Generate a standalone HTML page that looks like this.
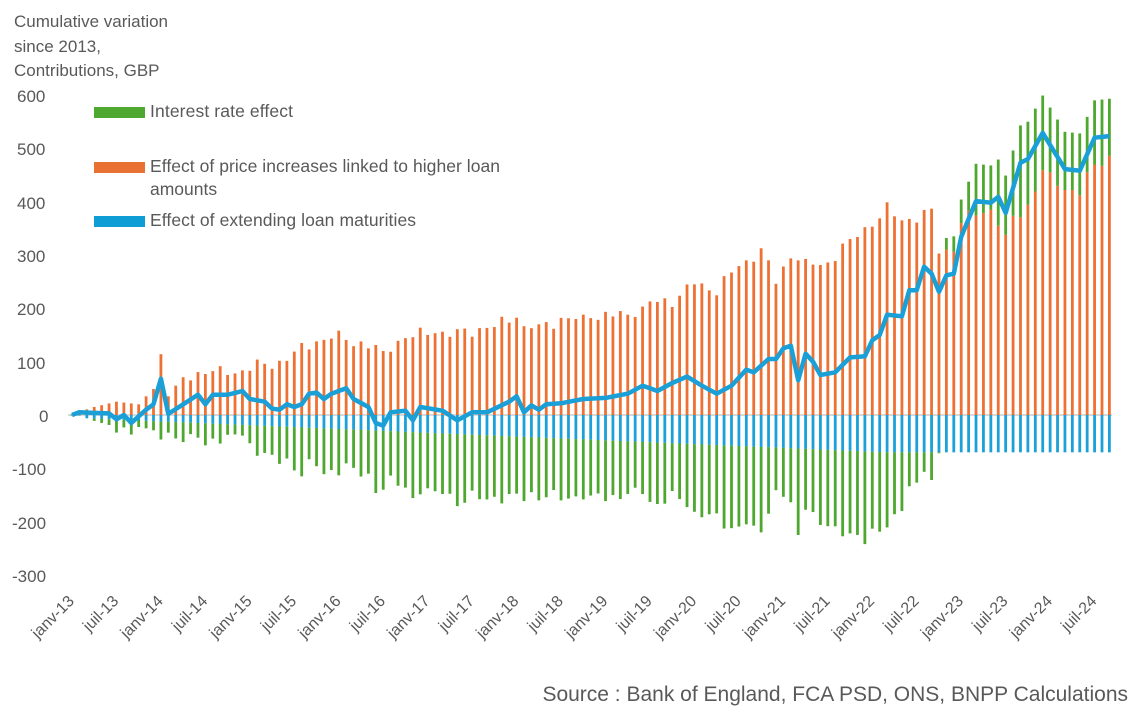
<!DOCTYPE html>
<html><head><meta charset="utf-8"><style>
body{margin:0;background:#fff;}
svg{display:block;font-family:"Liberation Sans",sans-serif;fill:#595959;}
</style></head><body>
<svg id="s" width="1144" height="714" viewBox="0 0 1144 714" xmlns="http://www.w3.org/2000/svg">
<text x="14" y="27" font-size="17">Cumulative variation</text>
<text x="14" y="52" font-size="17">since 2013,</text>
<text x="14" y="76" font-size="17">Contributions, GBP</text>
<g font-size="17">
<text x="17" y="102">600</text><text x="17" y="155">500</text><text x="17" y="209">400</text>
<text x="17" y="262">300</text><text x="17" y="315">200</text><text x="17" y="369">100</text>
<text x="39" y="422">0</text><text x="12" y="475">-100</text><text x="12" y="529">-200</text>
<text x="12" y="582">-300</text>
</g>
<line x1="68" y1="415" x2="1112" y2="415" stroke="#d9d9d9" stroke-width="2"/>
<g id="bars"></g>
<polyline id="ln" fill="none" stroke="#1a9fd6" stroke-width="4.5" stroke-linejoin="round"/>
<rect x="94" y="107" width="51" height="11" fill="#4ea72e"/>
<rect x="94" y="162" width="51" height="11" fill="#e97132"/>
<rect x="94" y="216" width="51" height="11" fill="#0e9ed5"/>
<g font-size="17.5">
<text x="150" y="117" textLength="143">Interest rate effect</text>
<text x="150" y="172" textLength="350">Effect of price increases linked to higher loan</text>
<text x="150" y="195">amounts</text>
<text x="150" y="226" textLength="266">Effect of extending loan maturities</text>
</g>
<g id="xl" font-size="16"></g>
<text x="1128" y="701" font-size="21" text-anchor="end">Source : Bank of England, FCA PSD, ONS, BNPP Calculations</text>
</svg>
<script>
var NS="http://www.w3.org/2000/svg";
function interp(k,i){for(var j=0;j<k.length-1;j++){if(i>=k[j][0]&&i<=k[j+1][0]){var t=(i-k[j][0])/(k[j+1][0]-k[j][0]);return k[j][1]+t*(k[j+1][1]-k[j][1]);}}return k[k.length-1][1];}
var O=[[0,0],[3,15],[6,25],[9,20],[11,50],[12,115],[13,45],[15,65],[18,85],[21,75],[24,90],[27,95],[30,115],[33,140],[36,145],[39,135],[42,120],[44,140],[48,155],[51,150],[54,160],[57,165],[60,190],[61,160],[63,170],[66,178],[69,180],[72,185],[75,190],[78,210],[81,215],[84,245],[87,235],[90,280],[93,310],[95,250],[97,300],[99,280],[102,285],[105,330],[108,360],[110,385],[112,365],[114,370],[116,380],[117,311],[119,306],[120,360],[122,380],[124,385],[126,338],[127,370],[129,392],[131,456],[133,430],[136,416],[138,470],[140,486]];
var L=[[0,0],[1,5],[5,3],[6,-8],[7,0],[8,-15],[10,10],[11,20],[12,68],[13,2],[17,38],[18,20],[19,38],[21,38],[23,45],[24,30],[26,25],[27,12],[28,10],[29,20],[30,15],[31,20],[32,40],[33,42],[34,30],[35,40],[36,45],[37,50],[38,30],[40,15],[41,-15],[42,-20],[43,5],[45,8],[46,-10],[47,15],[50,8],[52,-10],[54,5],[56,5],[59,25],[60,35],[61,5],[62,18],[63,10],[64,20],[66,22],[69,30],[72,32],[75,40],[77,55],[79,45],[81,60],[83,72],[85,55],[87,40],[89,55],[91,85],[92,80],[94,105],[95,105],[96,125],[97,130],[98,65],[99,115],[100,100],[101,75],[103,80],[105,108],[107,110],[108,140],[109,150],[110,188],[112,185],[113,234],[114,234],[115,278],[116,265],[117,231],[118,262],[119,265],[120,334],[122,401],[124,398],[125,409],[126,379],[128,473],[129,480],[131,529],[133,484],[134,461],[136,458],[138,520],[140,523]];
function X(i){return 72+i*7.41;}function Y(v){return 415-v*0.5333;}
var g=document.getElementById("bars"),pts=[];
function bar(x,v1,v2,c){var r=document.createElementNS(NS,"rect");var a=Y(v1),b=Y(v2);r.setAttribute("x",x-1.4);r.setAttribute("width",2.8);r.setAttribute("y",Math.min(a,b));r.setAttribute("height",Math.abs(a-b));r.setAttribute("fill",c);g.appendChild(r);}
for(var i=0;i<=140;i++){
 var noise=(i>10&&i%7!==0)?(Math.sin(i*2.3)*8+Math.sin(i*5.1)*6):0;
 var o=Math.max(0,interp(O,i)+noise);
 var b=-(5+65*Math.min(1,i/110));if(i<2)b=-1;
 var l=interp(L,i);var gr=l-o-b;
 var x=X(i);
 bar(x,0,o,"#ee7134");bar(x,0,b,"#1ba1d8");
 if(gr<0)bar(x,b,b+gr,"#4ea72e");else bar(x,o,o+gr,"#4ea72e");
 pts.push(x.toFixed(1)+","+Y(l).toFixed(1));
}
document.getElementById("ln").setAttribute("points",pts.join(" "));
var xl=document.getElementById("xl");
for(var k=0;k<=23;k++){var i=k*6;var lab=(k%2==0?"janv-":"juil-")+(13+Math.floor(k/2));
 var t=document.createElementNS(NS,"text");var x=X(i)+3;
 t.setAttribute("x",x);t.setAttribute("y",602);t.setAttribute("text-anchor","end");
 t.setAttribute("transform","rotate(-45 "+x+" 602)");t.textContent=lab;xl.appendChild(t);}
</script>
</body></html>
